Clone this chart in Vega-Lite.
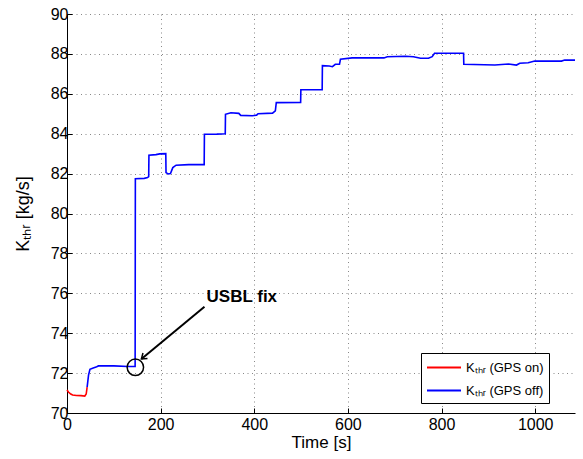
{
  "$schema": "https://vega.github.io/schema/vega-lite/v6.json",
  "autosize": {"type": "none"},
  "width": 508,
  "height": 399,
  "padding": {"left": 67, "top": 14, "right": 8, "bottom": 46},
  "background": "white",
  "config": {
    "view": {"stroke": null},
    "font": "Liberation Sans",
    "axis": {
      "domainColor": "black",
      "domainWidth": 1,
      "tickColor": "black",
      "tickSize": -5,
      "labelColor": "black",
      "labelFontSize": 16,
      "labelOverlap": false,
      "labelFlush": false,
      "titleColor": "black",
      "titleFontSize": 17,
      "titleFontWeight": "normal",
      "gridColor": "#555555",
      "gridOpacity": 0.7,
      "gridDash": [1, 3.5],
      "gridWidth": 1
    }
  },
  "datasets": {
    "curve": [
      {"t": 0, "k": 71.15, "s": "Kₜₕᵣ (GPS on)"},
      {"t": 3, "k": 71.05, "s": "Kₜₕᵣ (GPS on)"},
      {"t": 8, "k": 70.95, "s": "Kₜₕᵣ (GPS on)"},
      {"t": 12, "k": 70.9, "s": "Kₜₕᵣ (GPS on)"},
      {"t": 20, "k": 70.88, "s": "Kₜₕᵣ (GPS on)"},
      {"t": 30, "k": 70.87, "s": "Kₜₕᵣ (GPS on)"},
      {"t": 38, "k": 70.85, "s": "Kₜₕᵣ (GPS on)"},
      {"t": 41, "k": 70.95, "s": "Kₜₕᵣ (GPS on)"},
      {"t": 43, "k": 71.3, "s": "Kₜₕᵣ (GPS on)"},
      {"t": 43, "k": 71.3, "s": "Kₜₕᵣ (GPS off)"},
      {"t": 46, "k": 71.9, "s": "Kₜₕᵣ (GPS off)"},
      {"t": 49, "k": 72.19, "s": "Kₜₕᵣ (GPS off)"},
      {"t": 56, "k": 72.25, "s": "Kₜₕᵣ (GPS off)"},
      {"t": 62, "k": 72.3, "s": "Kₜₕᵣ (GPS off)"},
      {"t": 67, "k": 72.36, "s": "Kₜₕᵣ (GPS off)"},
      {"t": 100, "k": 72.36, "s": "Kₜₕᵣ (GPS off)"},
      {"t": 130, "k": 72.33, "s": "Kₜₕᵣ (GPS off)"},
      {"t": 145.5, "k": 72.33, "s": "Kₜₕᵣ (GPS off)"},
      {"t": 146, "k": 81.74, "s": "Kₜₕᵣ (GPS off)"},
      {"t": 165, "k": 81.76, "s": "Kₜₕᵣ (GPS off)"},
      {"t": 172, "k": 81.8, "s": "Kₜₕᵣ (GPS off)"},
      {"t": 174.5, "k": 81.85, "s": "Kₜₕᵣ (GPS off)"},
      {"t": 175, "k": 82.92, "s": "Kₜₕᵣ (GPS off)"},
      {"t": 190, "k": 82.95, "s": "Kₜₕᵣ (GPS off)"},
      {"t": 198, "k": 82.99, "s": "Kₜₕᵣ (GPS off)"},
      {"t": 211, "k": 83.0, "s": "Kₜₕᵣ (GPS off)"},
      {"t": 211.5, "k": 82.05, "s": "Kₜₕᵣ (GPS off)"},
      {"t": 216, "k": 81.98, "s": "Kₜₕᵣ (GPS off)"},
      {"t": 221, "k": 82.0, "s": "Kₜₕᵣ (GPS off)"},
      {"t": 226, "k": 82.3, "s": "Kₜₕᵣ (GPS off)"},
      {"t": 233, "k": 82.42, "s": "Kₜₕᵣ (GPS off)"},
      {"t": 260, "k": 82.45, "s": "Kₜₕᵣ (GPS off)"},
      {"t": 293, "k": 82.45, "s": "Kₜₕᵣ (GPS off)"},
      {"t": 293.5, "k": 83.97, "s": "Kₜₕᵣ (GPS off)"},
      {"t": 320, "k": 83.98, "s": "Kₜₕᵣ (GPS off)"},
      {"t": 338, "k": 84.0, "s": "Kₜₕᵣ (GPS off)"},
      {"t": 338.5, "k": 84.97, "s": "Kₜₕᵣ (GPS off)"},
      {"t": 350, "k": 85.05, "s": "Kₜₕᵣ (GPS off)"},
      {"t": 367, "k": 85.02, "s": "Kₜₕᵣ (GPS off)"},
      {"t": 371, "k": 84.92, "s": "Kₜₕᵣ (GPS off)"},
      {"t": 396, "k": 84.9, "s": "Kₜₕᵣ (GPS off)"},
      {"t": 405, "k": 84.93, "s": "Kₜₕᵣ (GPS off)"},
      {"t": 408, "k": 85.0, "s": "Kₜₕᵣ (GPS off)"},
      {"t": 439, "k": 85.03, "s": "Kₜₕᵣ (GPS off)"},
      {"t": 445, "k": 85.15, "s": "Kₜₕᵣ (GPS off)"},
      {"t": 447, "k": 85.56, "s": "Kₜₕᵣ (GPS off)"},
      {"t": 499, "k": 85.57, "s": "Kₜₕᵣ (GPS off)"},
      {"t": 499.5, "k": 86.2, "s": "Kₜₕᵣ (GPS off)"},
      {"t": 545, "k": 86.2, "s": "Kₜₕᵣ (GPS off)"},
      {"t": 545.5, "k": 87.41, "s": "Kₜₕᵣ (GPS off)"},
      {"t": 560, "k": 87.39, "s": "Kₜₕᵣ (GPS off)"},
      {"t": 567, "k": 87.36, "s": "Kₜₕᵣ (GPS off)"},
      {"t": 573, "k": 87.48, "s": "Kₜₕᵣ (GPS off)"},
      {"t": 582, "k": 87.48, "s": "Kₜₕᵣ (GPS off)"},
      {"t": 584, "k": 87.73, "s": "Kₜₕᵣ (GPS off)"},
      {"t": 609, "k": 87.8, "s": "Kₜₕᵣ (GPS off)"},
      {"t": 677, "k": 87.8, "s": "Kₜₕᵣ (GPS off)"},
      {"t": 684, "k": 87.86, "s": "Kₜₕᵣ (GPS off)"},
      {"t": 723, "k": 87.88, "s": "Kₜₕᵣ (GPS off)"},
      {"t": 740, "k": 87.86, "s": "Kₜₕᵣ (GPS off)"},
      {"t": 755, "k": 87.78, "s": "Kₜₕᵣ (GPS off)"},
      {"t": 772, "k": 87.78, "s": "Kₜₕᵣ (GPS off)"},
      {"t": 780, "k": 87.86, "s": "Kₜₕᵣ (GPS off)"},
      {"t": 785, "k": 88.03, "s": "Kₜₕᵣ (GPS off)"},
      {"t": 847, "k": 88.03, "s": "Kₜₕᵣ (GPS off)"},
      {"t": 847.5, "k": 87.48, "s": "Kₜₕᵣ (GPS off)"},
      {"t": 914, "k": 87.44, "s": "Kₜₕᵣ (GPS off)"},
      {"t": 943, "k": 87.49, "s": "Kₜₕᵣ (GPS off)"},
      {"t": 960, "k": 87.44, "s": "Kₜₕᵣ (GPS off)"},
      {"t": 967, "k": 87.53, "s": "Kₜₕᵣ (GPS off)"},
      {"t": 985, "k": 87.56, "s": "Kₜₕᵣ (GPS off)"},
      {"t": 999, "k": 87.64, "s": "Kₜₕᵣ (GPS off)"},
      {"t": 1056, "k": 87.64, "s": "Kₜₕᵣ (GPS off)"},
      {"t": 1063, "k": 87.69, "s": "Kₜₕᵣ (GPS off)"},
      {"t": 1085, "k": 87.69, "s": "Kₜₕᵣ (GPS off)"}
    ],
    "fix": [{"t": 146, "k": 72.29}],
    "arrow": [{"t": 293.6, "k": 75.33, "t2": 158.9, "k2": 72.71}],
    "label": [{"t": 298, "k": 75.55, "txt": "USBL fix"}]
  },
  "layer": [
    {
      "data": {"name": "curve"},
      "mark": {"type": "line", "strokeWidth": 1.6, "interpolate": "linear"},
      "encoding": {
        "x": {
          "field": "t", "type": "quantitative",
          "scale": {"domain": [0, 1085], "nice": false, "zero": false},
          "axis": {"title": "Time [s]", "values": [0, 200, 400, 600, 800, 1000], "format": "d", "labelPadding": 8, "titlePadding": 2, "grid": true}
        },
        "y": {
          "field": "k", "type": "quantitative",
          "scale": {"domain": [70, 90], "nice": false, "zero": false},
          "axis": {"title": "Kₜₕᵣ [kg/s]", "tickCount": 10, "format": "d", "labelPadding": 4, "titlePadding": 18, "titleFontSize": 18, "grid": true}
        },
        "color": {
          "field": "s", "type": "nominal",
          "scale": {"domain": ["Kₜₕᵣ (GPS on)", "Kₜₕᵣ (GPS off)"], "range": ["#ff0000", "#0000ff"]},
          "legend": {
            "title": null,
            "orient": "none",
            "legendX": 354,
            "legendY": 339,
            "symbolType": "M -1 0 L 3 0",
            "symbolSize": 289,
            "symbolStrokeWidth": 2,
            "labelFontSize": 13,
            "labelColor": "black",
            "labelOffset": 21,
            "labelExpr": "datum.label + '\u00a0\u00a0\u00a0\u00a0\u00a0\u00a0\u00a0'",
            "rowPadding": 6,
            "padding": 5,
            "strokeColor": "black",
            "fillColor": "white",
            "cornerRadius": 0
          }
        }
      }
    },
    {
      "data": {"name": "fix"},
      "mark": {"type": "point", "shape": "circle", "filled": false, "size": 270, "stroke": "black", "strokeWidth": 1.5, "opacity": 1},
      "encoding": {
        "x": {"field": "t", "type": "quantitative"},
        "y": {"field": "k", "type": "quantitative"}
      }
    },
    {
      "data": {"name": "arrow"},
      "mark": {"type": "rule", "color": "black", "strokeWidth": 2},
      "encoding": {
        "x": {"field": "t", "type": "quantitative"},
        "y": {"field": "k", "type": "quantitative"},
        "x2": {"field": "t2"},
        "y2": {"field": "k2"}
      }
    },
    {
      "data": {"name": "arrow"},
      "mark": {"type": "point", "shape": "M -0.7 -1 L 0 0 L 0.7 -1", "filled": false, "size": 100, "stroke": "black", "strokeWidth": 1.5, "angle": 50, "opacity": 1},
      "encoding": {
        "x": {"field": "t2", "type": "quantitative"},
        "y": {"field": "k2", "type": "quantitative"}
      }
    },
    {
      "data": {"name": "label"},
      "mark": {"type": "text", "align": "left", "baseline": "alphabetic", "fontSize": 17, "fontWeight": "bold", "color": "black"},
      "encoding": {
        "x": {"field": "t", "type": "quantitative"},
        "y": {"field": "k", "type": "quantitative"},
        "text": {"field": "txt"}
      }
    }
  ]
}
